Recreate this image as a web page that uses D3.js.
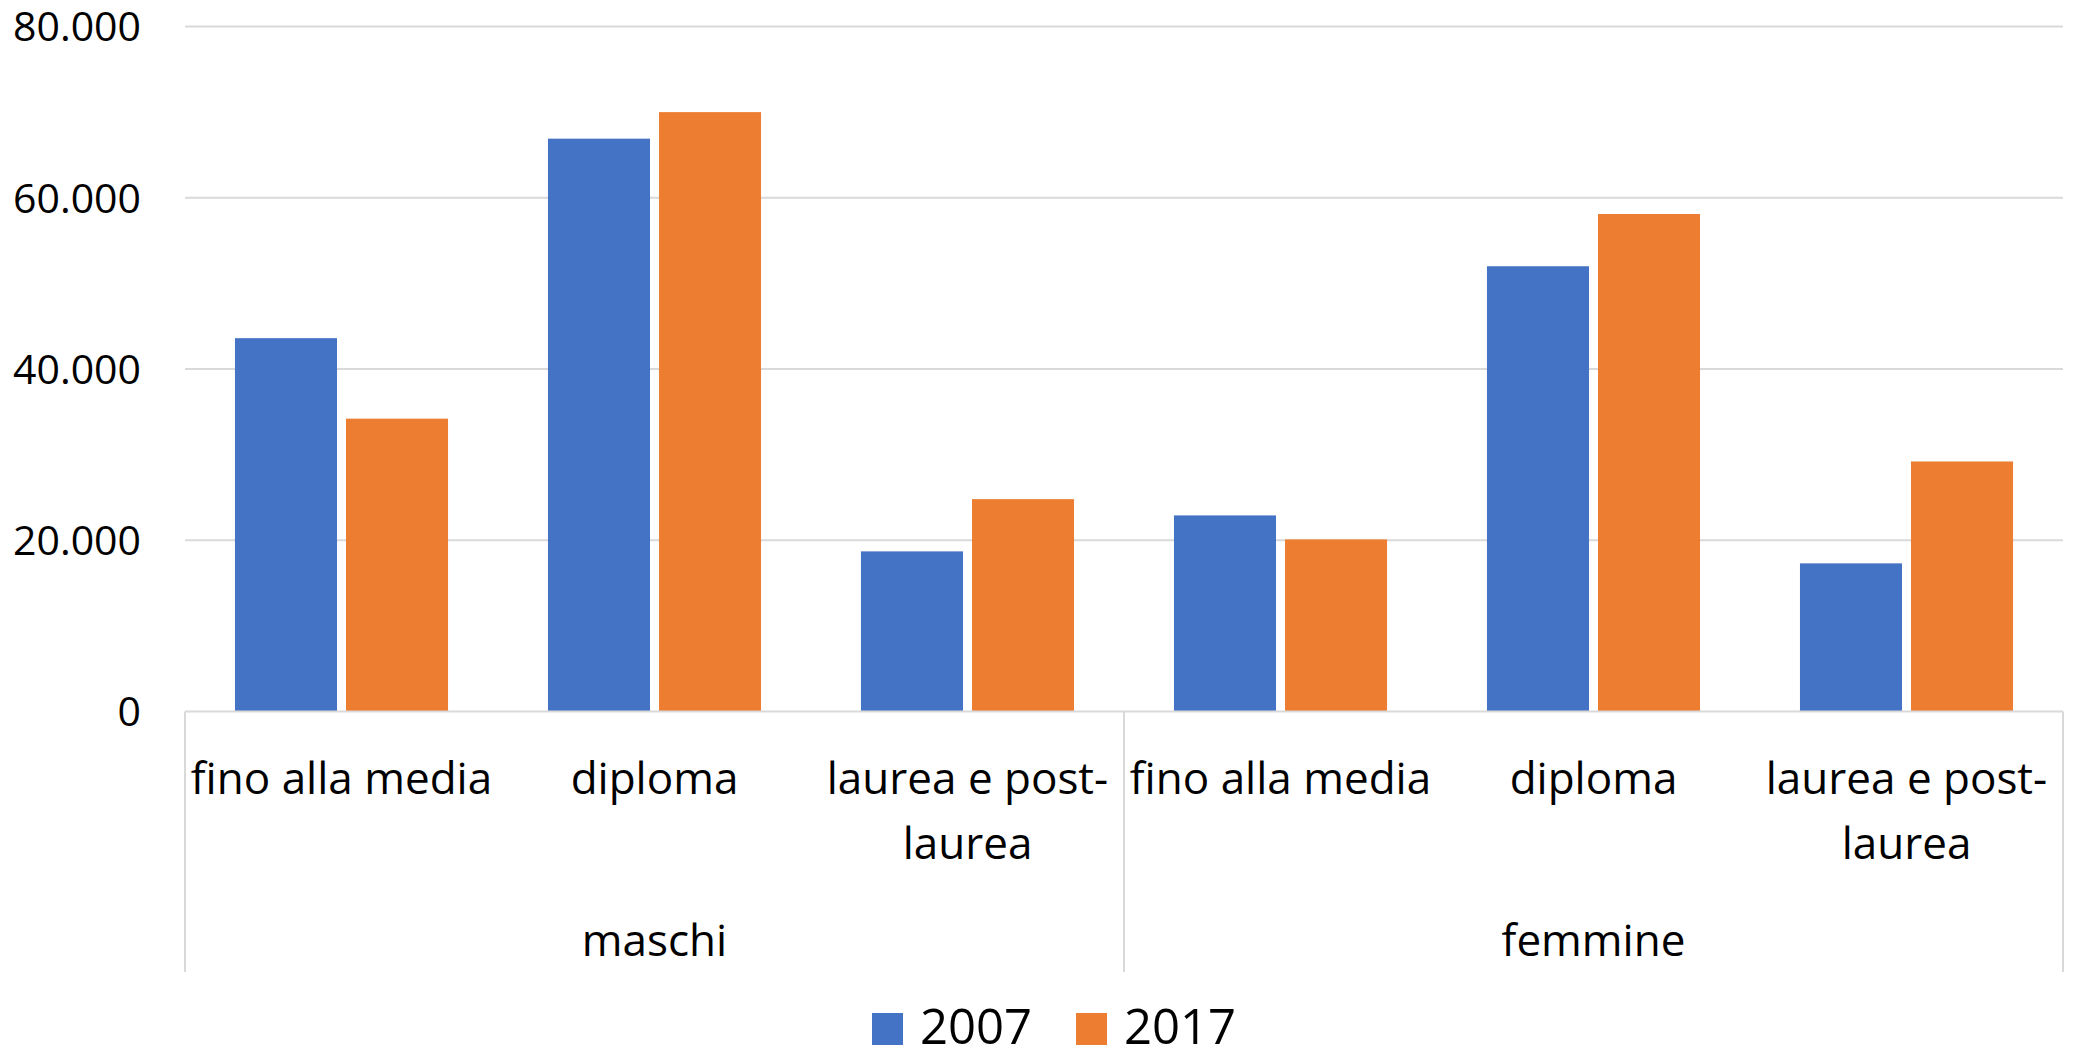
<!DOCTYPE html>
<html>
<head>
<meta charset="utf-8">
<script src="https://cdn.jsdelivr.net/npm/d3@7"></script>
<style>
  body { margin: 0; background: #fff; }
  svg text { font-family: "Open Sans", "Noto Sans", sans-serif; fill: #000; }
</style>
</head>
<body>
<svg id="chart"></svg>
<script>
var width = 2074, height = 1049

// data
var groups = ["maschi", "femmine"]
var levels = ["fino alla media", "diploma", "laurea e post-laurea"]
var series = ["2007", "2017"]
var values2007 = [43600, 66900, 18700, 22900, 52000, 17300]
var values2017 = [34200, 70000, 24800, 20100, 58100, 29200]
var yTicks = [0, 20000, 40000, 60000, 80000]
var colours = ["#4472C4", "#ED7D31"]

var svg = d3.select("#chart")
    .attr("width", width)
    .attr("height", height)

var cats = []
groups.forEach(function(g) {
    levels.forEach(function(l) { cats.push(g + "|" + l) })
})
var rows = cats.map(function(c, i) {
    return { key: c, v: [values2007[i], values2017[i]] }
})

var x0 = d3.scaleBand()
    .domain(cats)
    .range([185, 2063])

var x1 = d3.scaleBand()
    .domain(series)
    .range([0, x0.bandwidth()])
    .paddingInner(0.081)
    .paddingOuter(0.45)

var y = d3.scaleLinear()
    .domain([0, 80000])
    .range([711.5, 26.5])

var it = d3.formatLocale({ decimal: ",", thousands: ".", grouping: [3], currency: ["", "€"] })
var fmt = it.format(",")

// gridlines
svg.append("g")
    .selectAll("line")
    .data(yTicks.slice(1))
    .enter()
    .append("line")
        .attr("x1", 185)
        .attr("x2", 2063)
        .attr("y1", d => y(d))
        .attr("y2", d => y(d))
        .attr("stroke", "#d9d9d9")
        .attr("stroke-width", 2)

// y labels
svg.append("g")
    .selectAll("text")
    .data(yTicks)
    .enter()
    .append("text")
        .attr("x", 141)
        .attr("y", d => y(d))
        .attr("dy", "0.36em")
        .attr("text-anchor", "end")
        .attr("font-size", 41)
        .text(d => fmt(d))

// bars
var bars = svg.append("g")
rows.forEach(function(r) {
    series.forEach(function(s, j) {
        bars.append("rect")
            .attr("x", x0(r.key) + x1(s))
            .attr("y", y(r.v[j]))
            .attr("width", x1.bandwidth())
            .attr("height", y(0) - y(r.v[j]))
            .attr("fill", colours[j])
    })
})

// axis line
svg.append("line")
    .attr("x1", 185).attr("x2", 2063)
    .attr("y1", y(0)).attr("y2", y(0))
    .attr("stroke", "#d9d9d9").attr("stroke-width", 2)

// group separators
var seps = [185, x0(cats[3]), 2063]
svg.append("g")
    .selectAll("line")
    .data(seps)
    .enter()
    .append("line")
        .attr("x1", d => d).attr("x2", d => d)
        .attr("y1", y(0)).attr("y2", 972)
        .attr("stroke", "#d9d9d9").attr("stroke-width", 2)

// category labels
var lab = svg.append("g")
cats.forEach(function(c) {
    var l = c.split("|")[1]
    var cx = x0(c) + x0.bandwidth() / 2
    var lines = l == "laurea e post-laurea" ? ["laurea e post-", "laurea"] : [l]
    lines.forEach(function(t, k) {
        lab.append("text")
            .attr("x", cx)
            .attr("y", 778 + k * 65)
            .attr("dy", "0.36em")
            .attr("text-anchor", "middle")
            .attr("font-size", 44)
            .text(t)
    })
})

// group labels
groups.forEach(function(g, i) {
    var a = x0(g + "|" + levels[0]), b = x0(g + "|" + levels[2]) + x0.bandwidth()
    svg.append("text")
        .attr("x", (a + b) / 2)
        .attr("y", 940)
        .attr("dy", "0.36em")
        .attr("text-anchor", "middle")
        .attr("font-size", 44)
        .text(g)
})

// legend
var legX = [872, 1076]
series.forEach(function(s, i) {
    svg.append("rect")
        .attr("x", legX[i])
        .attr("y", 1013)
        .attr("width", 31)
        .attr("height", 32)
        .attr("fill", colours[i])
    svg.append("text")
        .attr("x", legX[i] + 48)
        .attr("y", 1026)
        .attr("dy", "0.36em")
        .attr("font-size", 49)
        .text(s)
})
</script>
</body>
</html>
